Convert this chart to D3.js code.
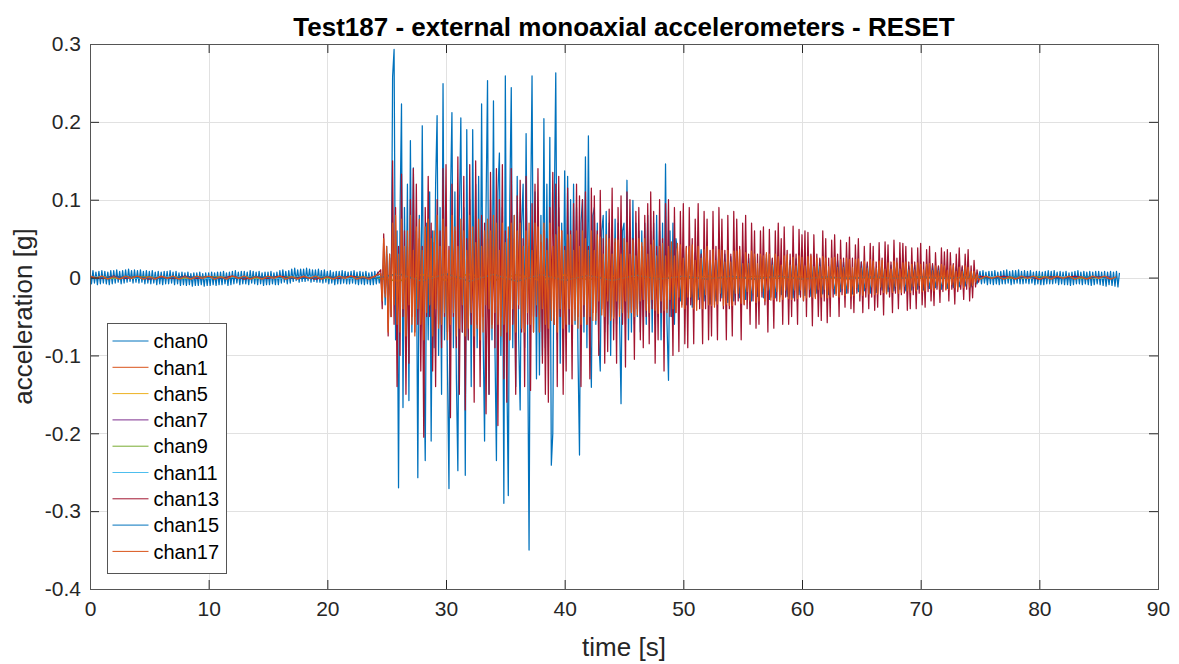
<!DOCTYPE html>
<html>
<head>
<meta charset="utf-8">
<script src="https://cdn.jsdelivr.net/npm/d3@7"></script>
<style>
  body { margin: 0; background: #fff; }
  text { font-family: "Liberation Sans", Arial, sans-serif; }
</style>
</head>
<body>
<svg id="chart" width="1179" height="664"></svg>
<script>
// all values in milli-g, one row = one second of samples

// chan0: 0 - 24.5 s, step 0.125 s
var chan0_pre = [
  8,-8,9,-7,7,-9,8,-8, 9,-7,8,-8,7,-9,9,-8, 9,-7,10,-6,8,-8,9,-7, 10,-6,11,-5,9,-7,10,-6,
  9,-7,10,-6,8,-8,9,-7, 8,-8,9,-7,7,-9,8,-8, 7,-9,8,-8,8,-8,9,-7, 7,-9,8,-8,6,-10,7,-9,
  6,-10,7,-9,5,-11,6,-10, 6,-10,7,-9,5,-11,6,-10, 6,-10,7,-9,6,-10,7,-9, 7,-9,8,-8,6,-10,7,-9,
  8,-8,9,-7,7,-9,8,-8, 8,-8,7,-9,9,-7,8,-8, 7,-9,8,-8,6,-10,7,-9, 7,-9,8,-8,6,-9,7,-9,
  9,-7,10,-6,8,-8,9,-7, 11,-5,12,-4,10,-6,11,-5, 11,-5,12,-4,11,-6,10,-5, 10,-6,11,-6,9,-7,10,-6,
  8,-8,9,-7,7,-9,8,-8, 8,-8,9,-7,8,-8,7,-8, 8,-7,9,-8,7,-9,8,-8, 7,-9,8,-8,6,-9,7,-9,
  8,-8,7,-7];
// chan0: 24.5 - 49.5 s, step 0.125 s
var chan0_quake = [
  5,-20,30,-35,40,-45,30,-50,
  258,293,-80,60,-270,80,223,-167,
  90,-60,120,-158,176,-70,141,-50,
  60,-257,80,-60,195,-90,-235,70,
  -80,110,-210,60,-90,120,208,-100,
  90,-150,249,-80,60,-120,-271,100,
  212,-90,110,-130,-248,80,205,-70,
  90,-254,190,-80,100,-140,190,-60,
  120,-90,130,-100,223,-70,-210,90,
  253,-150,100,-80,227,-90,-235,110,
  160,-100,90,-290,259,-120,-280,100,
  244,-90,80,-140,130,-80,-170,70,
  120,-90,185,-60,-350,80,259,-70,
  110,-130,90,-125,80,-100,204,-90,
  120,-100,180,-241,-200,90,263,-80,
  90,-110,70,-80,137,-60,130,-70,
  100,-80,120,-60,90,-100,-228,70,
  100,-70,155,-90,182,-60,-141,80,
  90,-60,70,-80,-120,60,80,-70,
  85,-60,70,-100,60,-50,75,-60,
  70,-50,-162,60,70,-60,125,-80,
  60,-70,99,-60,70,-50,60,-70,
  60,-50,70,-60,80,-50,60,-70,
  70,-60,80,-50,60,-80,70,-60,
  146,-60,-132,60,-50,70,-60,50];
// chan0: 49.5 - 75 s, step 0.25 s
var chan0_late = [
  35,-30,40,-35,30,-38,32,-28,36,-30, 30,-34,28,-30,35,-26,30,-32,27,-30,
  28,-26,30,-28,25,-30,27,-24,28,-26, 25,-28,24,-26,27,-22,25,-24,22,-26,
  24,-22,25,-23,20,-24,22,-20,23,-21, 20,-22,19,-21,22,-18,20,-20,18,-21,
  19,-18,20,-17,18,-20,17,-19,18,-16, 17,-18,16,-17,18,-15,16,-17,15,-16,
  16,-15,14,-16,15,-14,16,-13,14,-15, 13,-14,12,-13,14,-12,13,-11,12,-12,
  10,-8];
// chan0: 75 - 86.75 s, step 0.125 s
var chan0_post = [
  8,-8,9,-7,7,-9,8,-8, 8,-9,9,-8,7,-9,8,-8, 9,-8,10,-7,8,-9,9,-8, 9,-7,10,-8,8,-8,9,-7,
  8,-8,9,-7,7,-9,8,-8, 8,-9,7,-9,8,-8,9,-8, 8,-8,9,-7,7,-9,8,-8, 7,-9,8,-9,6,-10,7,-9,
  8,-8,9,-8,7,-9,8,-8, 7,-9,8,-10,7,-9,8,-8, 8,-9,7,-10,8,-11,7,-9, 8,-10,7,-11,8,-12,6];

// chan13: 0 - 24 s and 75 - 86 s at 1 s, 24.5 - 75 s at 0.125 s
var chan13_pre = [1,-1,2,-1,1,-2,1,-1,2,-1,1,-1,2,-2,1,-1,2,-1,1,-2,1,-1,2,-1,1];
var chan13_quake = [
  10,-40,56,-20,30,-75,25,-50,
  150,-60,90,-140,40,-100,133,-50,
  60,-150,40,-110,100,-50,140,-70,
  120,-60,50,-120,40,-205,90,-50,
  130,-50,70,-120,45,-140,100,-60,
  60,-90,140,-50,145,-70,40,-180,
  120,-50,60,-90,155,-150,50,-70,
  130,-170,50,-80,145,-60,40,-160,
  150,-60,50,-140,80,-50,70,-175,
  50,-150,135,-60,40,-90,140,-190,
  100,-50,145,-130,60,-160,50,-80,
  140,-60,50,-150,105,-40,125,-70,
  50,-140,130,-60,40,-145,95,-50,
  120,-50,140,-70,45,-110,60,-150,
  50,-160,90,-40,135,-60,120,-140,
  130,-50,60,-150,40,-120,115,-60,
  60,-130,95,-40,120,-50,105,-140,
  100,-50,110,-60,40,-130,115,-45,
  105,-45,60,-100,112,-40,50,-110,
  40,-95,88,-50,115,-80,45,-110,
  90,-40,105,-60,35,-115,110,-45,
  100,-45,50,-105,85,-40,90,-80,
  40,-90,80,-50,95,-85,110,-40,
  85,-110,40,-80,100,-45,50,-120,
  95,-40,100,-50,35,-100,90,-45,
  40,-95,85,-35,95,-85,40,-90,
  90,-35,50,-85,75,-30,95,-40,
  30,-85,85,-40,75,-80,35,-75,
  85,-35,40,-80,90,-30,75,-40,
  35,-80,80,-40,30,-75,85,-35,
  75,-30,40,-80,70,-35,80,-40,
  30,-60,70,-30,60,-65,30,-60,
  60,-25,65,-35,30,-70,62,-25,
  25,-65,60,-30,70,-25,50,-60,
  65,-25,35,-60,30,-50,66,-30,
  30,-60,62,-25,55,-30,60,-50,
  58,-25,30,-62,55,-25,30,-50,
  25,-55,60,-30,50,-58,25,-50,
  48,-25,55,-20,30,-50,48,-22,
  25,-38,45,-20,52,-40,25,-45,
  42,-20,50,-30,20,-45,40,-25,
  20,-40,44,-25,40,-42,20,-38,
  45,-22,25,-48,46,-20,42,-25,
  20,-45,48,-20,25,-40,45,-22,
  44,-20,40,-42,20,-40,38,-22,
  20,-40,38,-20,44,-35,20,-38,
  36,-18,40,-30,18,-36,32,-15,
  15,-32,38,-18,33,-15,36,-30,
  32,-15,18,-34,30,-18,38,-15,
  15,-28,30,-15,36,-30,15,-26,
  22,-12,10,-6];
var chan13_post = [2,-1,2,-1,1,-2,1,-1,2,-1,1,-1];

// chan17: 0 - 24 s and 75 - 86.5 s at 0.5 s, 24.5 - 75 s at 0.125 s
var chan17_pre = [2,-1,2,-2,1,-2,2,-1,2,-2, 1,-2,2,-1,2,-2,1,-2,2,-1, 2,-2,1,-2,2,-1,2,-2,1,-2,
  2,-1,2,-2,1,-2,2,-1,2,-2, 1,-2,2,-1,2,-2,1,-2,2];
var chan17_quake = [
  5,-30,50,-25,40,-70,30,-50,
  70,-35,80,-60,30,-70,75,-40,
  40,-75,60,-35,80,-60,35,-75,
  65,-40,75,-60,35,-80,65,-45,
  75,-35,50,-75,60,-40,80,-65,
  40,-60,75,-45,65,-80,35,-60,
  80,-45,65,-75,40,-65,75,-35,
  60,-75,35,-65,80,-45,65,-75,
  45,-65,75,-80,40,-70,60,-35,
  75,-40,60,-65,80,-45,70,-60,
  35,-75,70,-60,45,-70,65,-80,
  70,-40,80,-70,60,-35,70,-65,
  40,-70,60,-45,70,-60,35,-70,
  70,-35,65,-70,55,-40,70,-60,
  35,-65,70,-55,40,-60,55,-70,
  65,-40,60,-65,35,-60,55,-40,
  55,-60,35,-55,60,-65,40,-60,
  60,-35,50,-60,35,-50,60,-55,
  35,-55,55,-30,52,-48,30,-50,
  55,-30,50,-55,30,-52,50,-30,
  48,-50,30,-45,50,-30,45,-52,
  30,-45,48,-50,28,-48,50,-30,
  45,-28,50,-42,30,-45,42,-28,
  48,-42,28,-46,40,-30,44,-42,
  28,-45,40,-28,46,-40,28,-45,
  44,-25,42,-38,25,-40,38,-25,
  40,-25,42,-40,22,-42,40,-25,
  25,-40,36,-22,40,-35,22,-36,
  36,-38,22,-34,36,-20,35,-36,
  20,-34,35,-36,20,-36,34,-20,
  34,-20,36,-33,18,-34,32,-18,
  18,-30,34,-20,30,-32,18,-30,
  30,-18,28,-30,32,-16,30,-29,
  16,-28,30,-18,27,-31,16,-28,
  28,-16,29,-27,16,-28,26,-16,
  15,-27,28,-16,26,-29,15,-26,
  27,-15,28,-25,14,-27,25,-15,
  14,-25,27,-15,25,-26,14,-25,
  25,-14,26,-23,13,-25,23,-14,
  13,-23,25,-14,23,-24,13,-23,
  23,-13,24,-21,12,-23,21,-13,
  12,-21,23,-12,21,-22,12,-21,
  21,-12,22,-19,11,-21,19,-12,
  11,-19,21,-11,19,-20,11,-19,
  19,-11,20,-17,10,-19,17,-11,
  10,-17,19,-10,17,-18,10,-17,
  17,-10,18,-15,9,-17,15,-10,
  9,-15,17,-9,15,-16,9,-15,
  15,-9,16,-13,8,-15,13,-9,
  8,-13,15,-8,13,-12,8,-10,
  8,-6,4,-2];
var chan17_post = [-2,2,-1,2,-2,1,-2,2,-1,2,-2,1, -2,2,-1,2,-2,1,-2,2,-1,2,-2,1];

// minor channels, 2 s step from 0 s
var chan1  = [1,-1,1,0,-1,1,0,-1,1,0,-1,1,0, 5,-4,4,-5,4,-4,3,-4,3,-3, 3,-2,2,-2,2,-2,2,-2,1,-2,1,-1,1,-1,1, 1,-1,0,1,-1,0];
var chan5  = [0,1,-1,0,1,-1,0,1,-1,0,1,-1,0, -4,4,-3,4,-4,3,-4,3,-3,2, -2,2,-2,2,-2,2,-1,1,-1,1,-1,1,-1,1,-1, 0,1,-1,0,1,0];
var chan7  = [-1,0,1,-1,0,1,-1,0,1,-1,0,1,-1, 4,-5,4,-4,4,-3,4,-4,3,-3, 2,-2,2,-2,2,-2,2,-1,1,-1,1,-1,1,-1,1, -1,0,1,-1,0,1];
var chan9  = [0,-1,1,0,-1,1,0,-1,1,0,-1,1,0, -5,4,-4,5,-4,4,-3,4,-3,3, -2,2,-2,2,-2,2,-1,1,-1,1,-1,1,-1,1,-1, 0,-1,1,0,-1,0];
var chan11 = [1,0,-1,1,0,-1,1,0,-1,1,0,-1,1, 3,-4,3,-3,4,-3,3,-3,2,-3, 2,-2,2,-1,1,-1,1,-1,1,-1,1,-1,1,-1,1, 1,0,-1,1,0,-1];
var chan15 = [-1,1,0,-1,1,0,-1,1,0,-1,1,0,-1, 5,-5,5,-5,4,-5,4,-4,3,-4, 3,-2,2,-2,2,-2,2,-2,1,-1,1,-1,1,-1,1, -1,1,0,-1,1,0];

var channelNames = ["chan0","chan1","chan5","chan7","chan9","chan11","chan13","chan15","chan17"];
var channelColors = ["#0072BD","#D95319","#EDB120","#7E2F8E","#77AC30","#4DBEEE","#A2142F","#0072BD","#D95319"];
var xTicks = [0,10,20,30,40,50,60,70,80,90];
var yTicks = [-0.4,-0.3,-0.2,-0.1,0,0.1,0.2,0.3];

function seg(t0, dt, vals) {
  return vals.map(function (v, i) { return { t: t0 + i * dt, v: v / 1000 }; });
}

var series = [
  seg(0, 0.125, chan0_pre).concat(seg(24.5, 0.125, chan0_quake), seg(49.5, 0.25, chan0_late), seg(75, 0.125, chan0_post)),
  seg(0, 2, chan1),
  seg(0, 2, chan5),
  seg(0, 2, chan7),
  seg(0, 2, chan9),
  seg(0, 2, chan11),
  seg(0, 1, chan13_pre).concat(seg(24.5, 0.125, chan13_quake), seg(75, 1, chan13_post)),
  seg(0, 2, chan15),
  seg(0, 0.5, chan17_pre).concat(seg(24.5, 0.125, chan17_quake), seg(75, 0.5, chan17_post))
];
// recording stops at 86.75 s
series = series.map(function (s) {
  return s.filter(function (d) { return d.t <= 86.75; });
});

var svg = d3.select("#chart");
var margin = { top: 44, right: 21, bottom: 75, left: 90 },
    width = 1179 - margin.left - margin.right,
    height = 664 - margin.top - margin.bottom;

var x = d3.scaleLinear().domain([0, 90]).range([margin.left, margin.left + width]);
var y = d3.scaleLinear().domain([-0.4, 0.3]).range([margin.top + height, margin.top]);

var axisColor = "#262626";

// grid
var grid = svg.append("g").attr("stroke", "#e1e1e1").attr("stroke-width", 1);
grid.selectAll(".gx").data(xTicks).enter().append("line")
  .attr("x1", function (d) { return Math.round(x(d)) + 0.5; })
  .attr("x2", function (d) { return Math.round(x(d)) + 0.5; })
  .attr("y1", margin.top).attr("y2", margin.top + height);
grid.selectAll(".gy").data(yTicks).enter().append("line")
  .attr("y1", function (d) { return Math.round(y(d)) + 0.5; })
  .attr("y2", function (d) { return Math.round(y(d)) + 0.5; })
  .attr("x1", margin.left).attr("x2", margin.left + width);

svg.append("clipPath").attr("id", "clip").append("rect")
  .attr("x", margin.left).attr("y", margin.top).attr("width", width).attr("height", height);

var line = d3.line()
  .x(function (d) { return x(d.t); })
  .y(function (d) { return y(d.v); });

var plot = svg.append("g").attr("clip-path", "url(#clip)");
plot.selectAll("path").data(series).enter().append("path")
  .attr("fill", "none")
  .attr("stroke", function (d, i) { return channelColors[i]; })
  .attr("stroke-width", 1.25)
  .attr("stroke-linejoin", "round")
  .attr("d", line);

// axes, ticks pointing inward
function styleAxis(g) {
  g.select(".domain").remove();
  g.selectAll(".tick line").attr("stroke", axisColor);
  g.selectAll(".tick text").attr("fill", "#262626").style("font-size", "21px");
}
svg.append("g")
  .attr("transform", "translate(0," + (margin.top + height) + ")")
  .call(d3.axisBottom(x).tickValues(xTicks).tickSizeInner(-9).tickSizeOuter(0).tickPadding(12).tickFormat(d3.format("d")))
  .call(styleAxis);
svg.append("g")
  .attr("transform", "translate(0," + margin.top + ")")
  .call(d3.axisTop(x).tickValues(xTicks).tickSizeInner(-9).tickSizeOuter(0).tickFormat(""))
  .call(styleAxis);
svg.append("g")
  .attr("transform", "translate(" + margin.left + ",0)")
  .call(d3.axisLeft(y).tickValues(yTicks).tickSizeInner(-9).tickSizeOuter(0).tickPadding(9)
    .tickFormat(function (d) { return d === 0 ? "0" : d.toFixed(1); }))
  .call(styleAxis);
svg.append("g")
  .attr("transform", "translate(" + (margin.left + width) + ",0)")
  .call(d3.axisRight(y).tickValues(yTicks).tickSizeInner(-9).tickSizeOuter(0).tickFormat(""))
  .call(styleAxis);

svg.append("rect")
  .attr("x", margin.left + 0.5).attr("y", margin.top + 0.5)
  .attr("width", width).attr("height", height)
  .attr("fill", "none").attr("stroke", "#555").attr("stroke-width", 1);

// titles
svg.append("text")
  .attr("x", margin.left + width / 2).attr("y", 36)
  .attr("text-anchor", "middle")
  .style("font-size", "26px").style("font-weight", "bold").attr("fill", "#000")
  .text("Test187 - external monoaxial accelerometers - RESET");
svg.append("text")
  .attr("x", margin.left + width / 2).attr("y", 656)
  .attr("text-anchor", "middle")
  .style("font-size", "26px").attr("fill", "#262626")
  .text("time [s]");
svg.append("text")
  .attr("transform", "translate(32," + (margin.top + height / 2) + ") rotate(-90)")
  .attr("text-anchor", "middle")
  .style("font-size", "26px").attr("fill", "#262626")
  .text("acceleration [g]");

// legend
var legend = svg.append("g").attr("transform", "translate(107.5,323.5)");
legend.append("rect")
  .attr("width", 119).attr("height", 250)
  .attr("fill", "#fff").attr("stroke", "#555").attr("stroke-width", 1);
var rows = legend.selectAll(".row").data(channelNames).enter().append("g")
  .attr("transform", function (d, i) { return "translate(0," + (17.5 + i * 26.3) + ")"; });
rows.append("line")
  .attr("x1", 5).attr("x2", 41)
  .attr("stroke", function (d, i) { return channelColors[i]; })
  .attr("stroke-width", 1);
rows.append("text")
  .attr("x", 46).attr("dy", "0.36em")
  .style("font-size", "20px").attr("fill", "#000")
  .text(function (d) { return d; });
</script>
</body>
</html>
